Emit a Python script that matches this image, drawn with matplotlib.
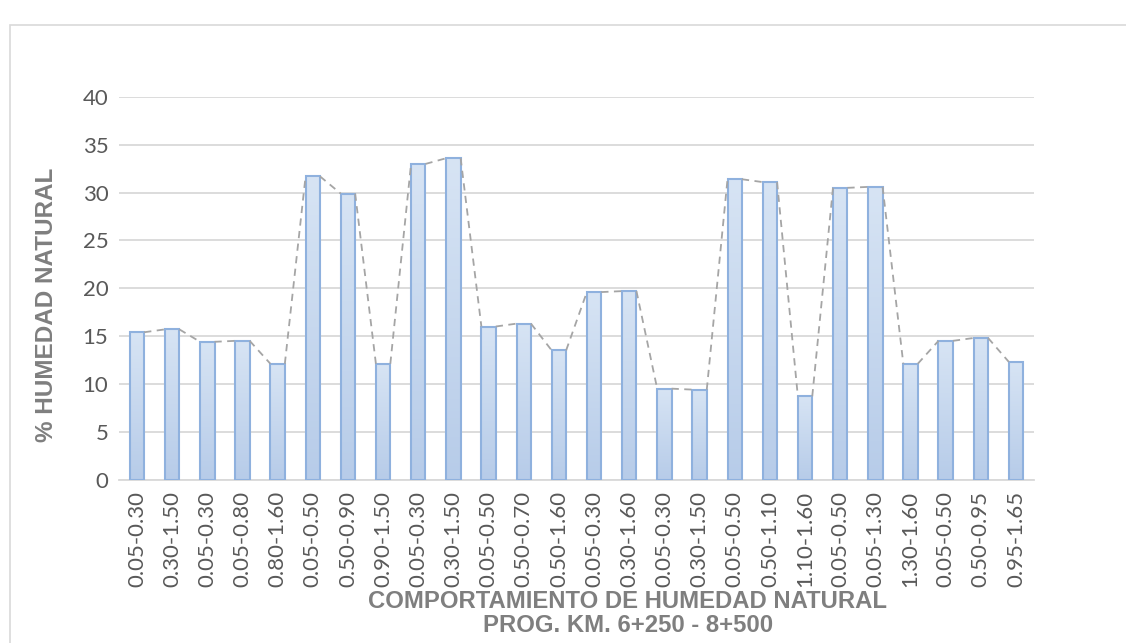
import matplotlib
matplotlib.use("Agg")
import matplotlib.pyplot as plt
import numpy as np
from matplotlib.patches import Rectangle

# ---- data ----
depths = [
    "0.05-0.30", "0.30-1.50", "0.05-0.30", "0.05-0.80", "0.80-1.60",
    "0.05-0.50", "0.50-0.90", "0.90-1.50", "0.05-0.30", "0.30-1.50",
    "0.05-0.50", "0.50-0.70", "0.50-1.60", "0.05-0.30", "0.30-1.60",
    "0.05-0.30", "0.30-1.50", "0.05-0.50", "0.50-1.10", "1.10-1.60",
    "0.05-0.50", "0.05-1.30", "1.30-1.60", "0.05-0.50", "0.50-0.95",
    "0.95-1.65",
]
humedad = [
    15.4, 15.7, 14.4, 14.5, 12.1,
    31.7, 29.9, 12.1, 33.0, 33.6,
    16.0, 16.3, 13.5, 19.6, 19.7,
    9.5, 9.4, 31.4, 31.1, 8.7,
    30.5, 30.6, 12.1, 14.5, 14.8,
    12.3,
]
yticks = [0, 5, 10, 15, 20, 25, 30, 35, 40]

GRID = "#d9d9d9"
TICK_TXT = "#595959"
TITLE_TXT = "#7f7f7f"
BAR_EDGE = "#8fb1de"
SERIES_LINE = "#a5a5a5"

fig = plt.figure(figsize=(11.26, 6.43), dpi=100)
fig.patch.set_facecolor("white")

# chart-area border (Excel style), runs off the right/bottom of the picture
fig.patches.append(Rectangle((10 / 1126, -0.05), 1.2, 1 - 25 / 643 + 0.05,
                             transform=fig.transFigure, fill=False,
                             edgecolor=GRID, linewidth=1.2))

ax = fig.add_axes([119.4 / 1126, 1 - 479.5 / 643, 914.2 / 1126, 382.5 / 643])

x = np.arange(len(humedad))
width = 0.41
bars = ax.bar(x, humedad, width=width, color="none", edgecolor=BAR_EDGE,
              linewidth=1.5, zorder=3)

# light vertical gradient inside each bar
grad = np.linspace(0, 1, 100).reshape(-1, 1)
cmap = matplotlib.colors.LinearSegmentedColormap.from_list(
    "bar", ["#b7cce9", "#d7e4f4"])
for b in bars:
    x0, y0 = b.get_x(), b.get_y()
    im = ax.imshow(grad, cmap=cmap, origin="lower", aspect="auto",
                   extent=(x0, x0 + b.get_width(), y0, y0 + b.get_height()),
                   zorder=2)
    im.set_clip_path(b)

# series lines: top-right corner of one bar to top-left corner of the next
for i in range(len(humedad) - 1):
    ax.plot([x[i] + width / 2, x[i + 1] - width / 2],
            [humedad[i], humedad[i + 1]],
            color=SERIES_LINE, linewidth=1.3, linestyle=(0, (4, 3)), zorder=4)

ax.set_xlim(-0.5, len(humedad) - 0.5)
ax.set_ylim(0, 40)
ax.set_yticks(yticks)
ax.set_xticks(x)
ax.set_xticklabels(depths, rotation=90)

ax.grid(axis="y", color=GRID, linewidth=1.3, zorder=0)
ax.set_axisbelow(True)
for side in ("top", "right", "left"):
    ax.spines[side].set_visible(False)
ax.spines["bottom"].set_color(GRID)
ax.spines["bottom"].set_linewidth(1.3)
ax.tick_params(axis="both", length=0)
ax.tick_params(axis="y", pad=8)
ax.tick_params(axis="x", pad=8)
for lab in ax.get_xticklabels() + ax.get_yticklabels():
    lab.set_fontfamily("Lato")
    lab.set_color(TICK_TXT)
    lab.set_fontsize(16)

fig.text(47 / 1126, 1 - 305 / 643, "% HUMEDAD NATURAL", rotation=90,
         ha="center", va="center", fontsize=17.5, fontweight="bold",
         color=TITLE_TXT, family="Liberation Sans")
fig.text(628 / 1126, 1 - 602 / 643, "COMPORTAMIENTO DE HUMEDAD NATURAL",
         ha="center", va="center", fontsize=17.2, fontweight="bold",
         color=TITLE_TXT, family="Liberation Sans")
fig.text(628 / 1126, 1 - 625 / 643, "PROG. KM. 6+250 - 8+500",
         ha="center", va="center", fontsize=17.2, fontweight="bold",
         color=TITLE_TXT, family="Liberation Sans")

fig.savefig("out.png", dpi=100, facecolor="white")
